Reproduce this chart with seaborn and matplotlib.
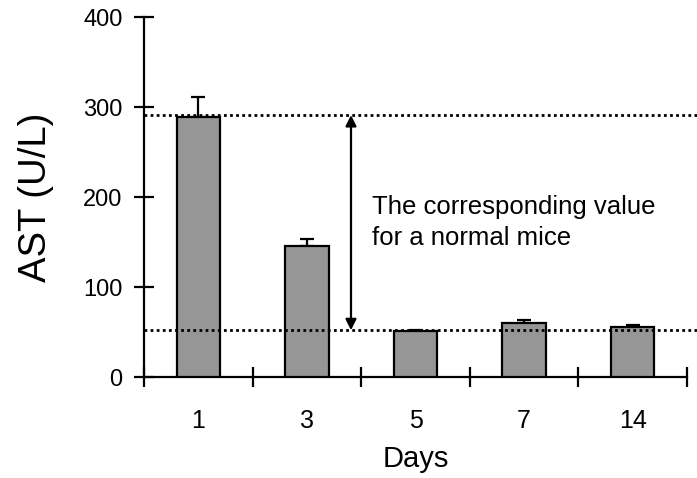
import matplotlib
matplotlib.use("Agg")
import matplotlib.pyplot as plt
import seaborn as sns
import pandas as pd

days = ["1", "3", "5", "7", "14"]
ast = [289, 146, 51, 60, 56]
err = [22, 7, 1, 3, 2]
normal_high = 291
normal_low = 52
yticks = [0, 100, 200, 300, 400]

sns.set_style("white")
plt.rcParams['font.family'] = ['Liberation Sans', 'DejaVu Sans']
plt.rcParams['text.color'] = 'black'
plt.rcParams['axes.labelcolor'] = 'black'
plt.rcParams['xtick.color'] = 'black'
plt.rcParams['ytick.color'] = 'black'

fig = plt.figure(figsize=(6.97, 4.78), dpi=100)
ax = fig.add_axes([144/697, 101/478, 543/697, 360/478])

df = pd.DataFrame({"Days": days, "AST": ast})
sns.barplot(data=df, x="Days", y="AST", color="#969696", width=0.4,
            edgecolor="black", linewidth=1.6, saturation=1, ax=ax, errorbar=None)
for p in ax.patches:
    p.set_facecolor("#969696")
    p.set_zorder(3)

ax.errorbar(range(len(days)), ast, yerr=[[0]*len(err), err], fmt="none",
            ecolor="black", elinewidth=1.6, capsize=5, capthick=1.6, zorder=2)

ax.set_xlim(-0.5, 4.5)
ax.set_ylim(0, 400)
ax.set_yticks(yticks)

for v in (normal_high, normal_low):
    ax.axhline(v, xmin=0, xmax=1.02, color="black", lw=2,
               linestyle=(0, (1.0, 1.2)), clip_on=False, zorder=4)

ax.annotate("", xy=(1.406, normal_high), xytext=(1.406, normal_low),
            arrowprops=dict(arrowstyle="<|-|>", color="black", lw=1.6,
                            mutation_scale=16, shrinkA=0, shrinkB=0))
ax.text(1.60, 172, "The corresponding value\nfor a normal mice", fontsize=18.5,
        ha="left", va="center", linespacing=1.35)

ax.set_xticks([i for i in range(len(days))])
ax.set_xticklabels(days)
ax.set_xticks([i - 0.5 for i in range(len(days) + 1)], minor=True)
ax.tick_params(axis="x", which="major", bottom=False, length=0, labelsize=18, pad=23)
ax.tick_params(axis="x", which="minor", bottom=True, direction="inout", length=15, width=1.6, color="black")
ax.tick_params(axis="y", left=True, direction="inout", length=15, width=1.6, color="black", labelsize=17, pad=8)

for s in ["top", "right"]:
    ax.spines[s].set_visible(False)
for s in ["left", "bottom"]:
    ax.spines[s].set_color("black")
    ax.spines[s].set_linewidth(1.6)

ax.set_xlabel("Days", fontsize=21, labelpad=9)
ax.set_ylabel("AST (U/L)", fontsize=27.5, labelpad=21)

fig.savefig("out.png", dpi=100)
